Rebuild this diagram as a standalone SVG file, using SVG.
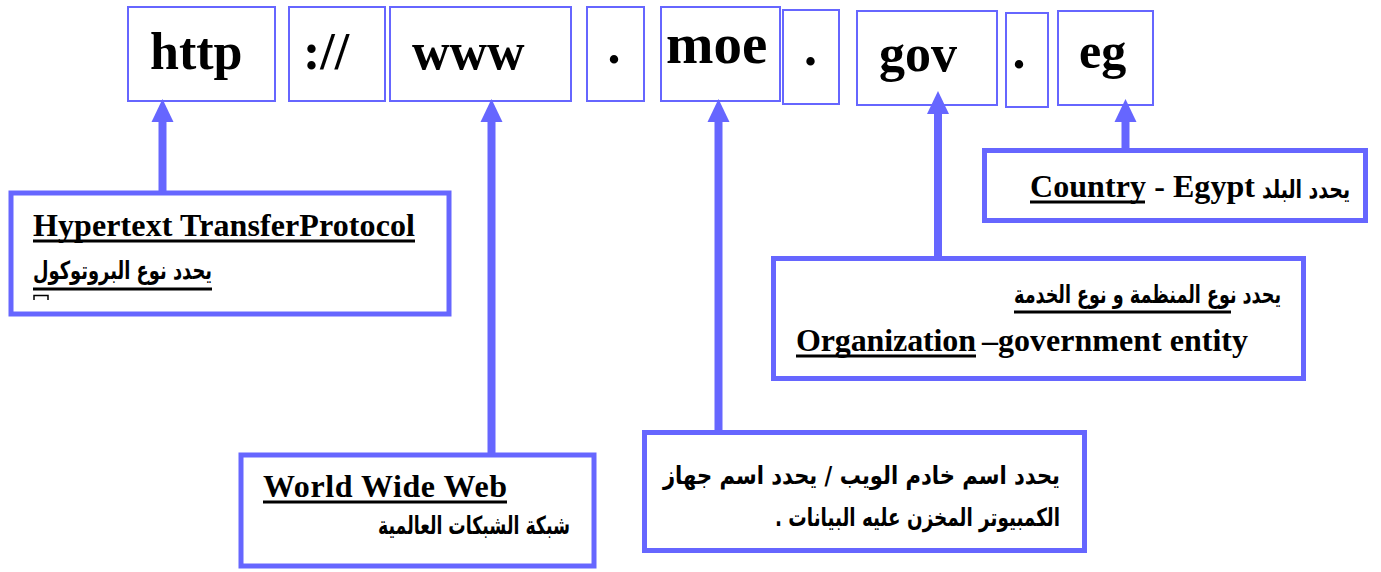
<svg xmlns="http://www.w3.org/2000/svg" width="1381" height="572" viewBox="0 0 1381 572">
<style>
.top{fill:#fff;stroke:#6666ff;stroke-width:2}
.lbl{fill:#fff;stroke:#6666ff;stroke-width:5}
.big{font-family:"Liberation Serif","Times New Roman",serif;font-weight:bold;fill:#000}
.en{font-family:"Liberation Serif","Times New Roman",serif;font-weight:bold;font-size:32px;fill:#000}
.ar{font-family:"DejaVu Sans","Noto Sans",sans-serif;font-weight:bold;font-size:25px;fill:#000}
.ul{stroke:#000;stroke-width:3}
.conn{stroke:#6666ff;stroke-width:8;fill:none}
</style>
<defs>
<marker id="ah" markerUnits="userSpaceOnUse" markerWidth="24" markerHeight="24" viewBox="0 0 24 24" refX="0" refY="12" orient="auto">
<path d="M0,1 L23,12 L0,23 Z" fill="#6666ff"/>
</marker>
</defs>
<g id="n-http"><rect class="top" x="128" y="7" width="147" height="94"/><text class="big" x="150" y="69" font-size="52">http</text></g>
<g id="n-sep"><rect class="top" x="289" y="7" width="96" height="94"/><text class="big" x="303" y="69" font-size="52">://</text></g>
<g id="n-www"><rect class="top" x="390" y="7" width="181" height="94"/><text class="big" x="412" y="69" font-size="52">www</text></g>
<g id="n-dot1"><rect class="top" x="587" y="7" width="57" height="94"/><text class="big" x="607.5" y="63" font-size="52">.</text></g>
<g id="n-moe"><rect class="top" x="661" y="7" width="119" height="94"/><text class="big" x="666" y="63" font-size="57">moe</text></g>
<g id="n-dot2"><rect class="top" x="783" y="10" width="56" height="94"/><text class="big" x="804" y="65" font-size="52">.</text></g>
<g id="n-gov"><rect class="top" x="857" y="11" width="140" height="94"/><text class="big" x="879" y="71" font-size="52">gov</text></g>
<g id="n-dot3"><rect class="top" x="1006" y="13" width="42" height="94"/><text class="big" x="1012.5" y="68" font-size="52">.</text></g>
<g id="n-eg"><rect class="top" x="1058" y="11" width="95" height="94"/><text class="big" x="1079" y="68" font-size="50">eg</text></g>

<g id="connectors">
<line class="conn" x1="162.5" y1="193" x2="162.5" y2="122" marker-end="url(#ah)"/>
<line class="conn" x1="491.5" y1="455" x2="491.5" y2="122" marker-end="url(#ah)"/>
<line class="conn" x1="718.5" y1="432" x2="718.5" y2="122" marker-end="url(#ah)"/>
<line class="conn" x1="938" y1="258" x2="938" y2="114" marker-end="url(#ah)"/>
<line class="conn" x1="1125.5" y1="150" x2="1125.5" y2="122" marker-end="url(#ah)"/>
</g>

<g id="l-http">
<rect class="lbl" x="11" y="193" width="438" height="121"/>
<text class="en" x="33" y="236" textLength="382">Hypertext TransferProtocol</text>
<line class="ul" x1="33" y1="241" x2="415" y2="241"/>
<text class="ar" x="33" y="279" textLength="179" lengthAdjust="spacingAndGlyphs">يحدد نوع البروتوكول</text>
<line class="ul" x1="33" y1="289" x2="212" y2="289"/>
<path d="M34,300 V295.5 H48 V300" fill="none" stroke="#000" stroke-width="1.5"/>
</g>

<g id="l-www">
<rect class="lbl" x="241" y="455" width="353" height="111"/>
<text class="en" x="263" y="497" textLength="244">World Wide Web</text>
<line class="ul" x1="263" y1="502" x2="507" y2="502"/>
<text class="ar" x="378" y="534" textLength="192" lengthAdjust="spacingAndGlyphs">شبكة الشبكات العالمية</text>
</g>

<g id="l-moe">
<rect class="lbl" x="644.5" y="432.5" width="440" height="118"/>
<text class="ar" x="663" y="484" textLength="397" lengthAdjust="spacingAndGlyphs">يحدد اسم خادم الويب / يحدد اسم جهاز</text>
<text class="ar" x="775" y="526" textLength="285" lengthAdjust="spacingAndGlyphs">الكمبيوتر المخزن عليه البيانات .&#x200F;</text>
</g>

<g id="l-gov">
<rect class="lbl" x="773.5" y="258.5" width="530" height="120"/>
<text class="ar" x="1014" y="303" textLength="267" lengthAdjust="spacingAndGlyphs">يحدد نوع المنظمة و نوع الخدمة</text>
<line class="ul" x1="1014" y1="312" x2="1231" y2="312"/>
<text class="en" x="796" y="351" textLength="180">Organization</text>
<line class="ul" x1="796" y1="356" x2="976" y2="356"/>
<text class="en" x="982" y="351" textLength="266">–government entity</text>
</g>

<g id="l-eg">
<rect class="lbl" x="984.5" y="150.5" width="381" height="70"/>
<text class="en" x="1030" y="197" textLength="225">Country - Egypt</text>
<line class="ul" x1="1030" y1="202" x2="1145" y2="202"/>
<text class="ar" x="1262" y="198" textLength="88" lengthAdjust="spacingAndGlyphs">يحدد البلد</text>
</g>
</svg>
